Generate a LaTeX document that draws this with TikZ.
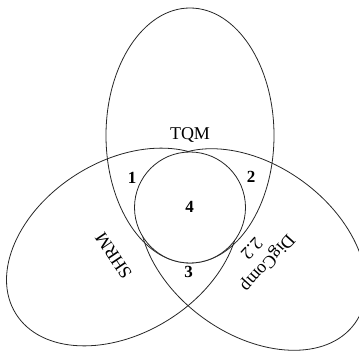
\documentclass[tikz,border=0pt]{standalone}
\usepackage{fontspec}
\setmainfont{Liberation Serif}
\begin{document}
\begin{tikzpicture}[x=1pt,y=-1pt,
  shapeline/.style={draw=black!85, line width=0.8pt},
  lbl/.style={font=\fontsize{18}{22}\selectfont, inner sep=0pt},
  num/.style={font=\fontsize{17}{20}\selectfont\bfseries, inner sep=0pt}]
\useasboundingbox (0,0) rectangle (359,351);
% TQM ellipse
\draw[shapeline] (190,135.5) ellipse[x radius=84pt, y radius=127.5pt];
% SHRM ellipse
\draw[shapeline, rotate around={32:(122.7,247)}] (122.7,247) ellipse[x radius=126pt, y radius=86pt];
% DigComp ellipse
\draw[shapeline, rotate around={-36:(252.8,249.5)}] (252.8,249.5) ellipse[x radius=126pt, y radius=84.5pt];
% centre circle (hides the tips of the ellipses)
\draw[shapeline, fill=white] (190,207.5) circle[radius=55.5pt];
% labels
\node[lbl] (tqm) at (190,135) {TQM};
\node[lbl, rotate=124] (shrm) at (113.5,255.5) {SHRM};
\node[lbl, rotate=228, align=center] (dig) at (260,256) {DigComp\\2.2};
\node[num] (n1) at (132,178) {1};
\node[num] (n2) at (251,177) {2};
\node[num] (n4) at (189.5,207) {4};
\node[num] (n3) at (188.5,272) {3};
\end{tikzpicture}
\end{document}
